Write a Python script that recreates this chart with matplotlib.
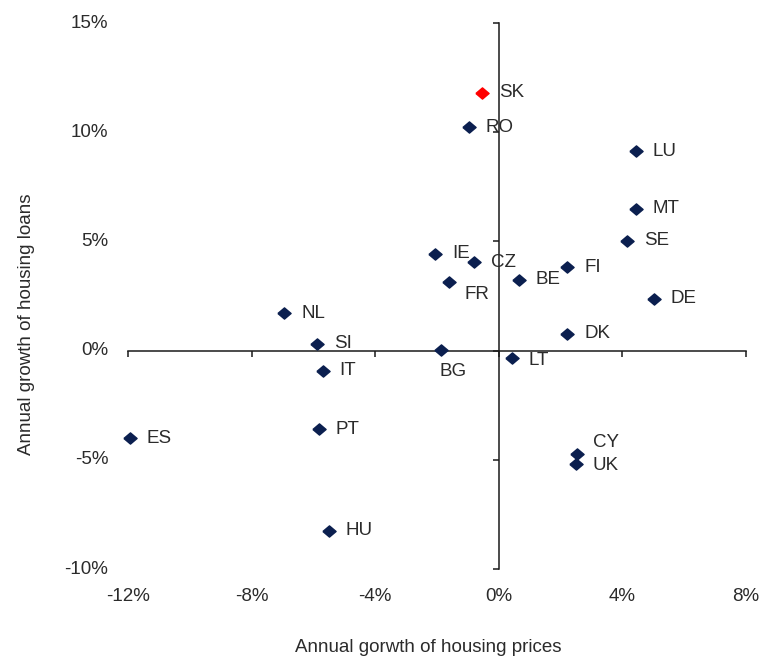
import matplotlib
matplotlib.use("Agg")
import matplotlib.pyplot as plt

plt.rcParams['font.family'] = ['Liberation Sans', 'DejaVu Sans']

# housing price growth (x, %) vs housing loan growth (y, %)
countries = ['SK', 'RO', 'LU', 'MT', 'SE', 'IE', 'CZ', 'FI', 'BE', 'FR', 'DE',
             'DK', 'NL', 'SI', 'IT', 'PT', 'ES', 'HU', 'BG', 'LT', 'CY', 'UK']
price_growth = [-0.54, -0.98, 4.43, 4.43, 4.16, -2.06, -0.79, 2.22, 0.66, -1.61, 5.03,
                2.22, -6.94, -5.87, -5.70, -5.83, -11.95, -5.51, -1.87, 0.42, 2.52, 2.50]
loan_growth = [11.8, 10.22, 9.13, 6.5, 5.02, 4.44, 4.04, 3.81, 3.25, 3.13, 2.37,
               0.78, 1.72, 0.32, -0.92, -3.59, -4.01, -8.24, 0.01, -0.34, -4.73, -5.19]
highlight = 'SK'

xticks = [-12, -8, -4, 0, 4, 8]
yticks = [-10, -5, 0, 5, 10, 15]

navy = '#0b1f4f'
txt = '#2b2b2b'
fs = 13.5

# label offsets in points, default is to the right of the marker
offsets = {'FR': (11, -9), 'BG': (-1, -15), 'LT': (12, -2), 'CY': (12, 8), 'UK': (12, -1)}

fig = plt.figure(figsize=(7.62, 6.59), dpi=100)
ax = fig.add_axes([128/762, 1-569/659, 618/762, 546/659])

diamond = [(-1, 0), (0, 0.85), (1, 0), (0, -0.85), (-1, 0)]
for c, x, y in zip(countries, price_growth, loan_growth):
    col = 'red' if c == highlight else navy
    ax.plot(x, y, marker=diamond, ms=9.5, color=col, mec=col, ls='none',
            zorder=3, clip_on=False)
    dx, dy = offsets.get(c, (12, 0))
    ax.annotate(c, (x, y), xytext=(dx, dy), textcoords='offset points',
                ha='left', va='center', fontsize=fs, color=txt)

ax.set_xlim(-12, 8)
ax.set_ylim(-10, 15)

for s in ['top', 'right']:
    ax.spines[s].set_visible(False)
ax.spines['left'].set_position(('data', 0))
ax.spines['bottom'].set_position(('data', 0))
for s in ['left', 'bottom']:
    ax.spines[s].set_color('#1a1a1a')
    ax.spines[s].set_linewidth(1.1)

ax.set_xticks(xticks)
ax.set_yticks(yticks)
ax.tick_params(direction='out', length=4.5, width=1.1, color='#1a1a1a',
               labelleft=False, labelbottom=False)

# tick labels sit at the frame edges, not on the zero axes
for v in yticks:
    ax.text(-0.032, v, f'{v}%', transform=ax.get_yaxis_transform(),
            ha='right', va='center', fontsize=fs, color=txt)
for v in xticks:
    ax.text(v, -0.051, f'{v}%', transform=ax.get_xaxis_transform(),
            ha='center', va='center', fontsize=fs, color=txt)

fig.text(27/762, 1-324/659, 'Annual growth of housing loans', rotation=90,
         ha='center', va='center', fontsize=fs, color=txt)
fig.text(428/762, 1-648/659, 'Annual gorwth of housing prices',
         ha='center', va='center', fontsize=fs, color=txt)

fig.savefig('out.png', dpi=100)
